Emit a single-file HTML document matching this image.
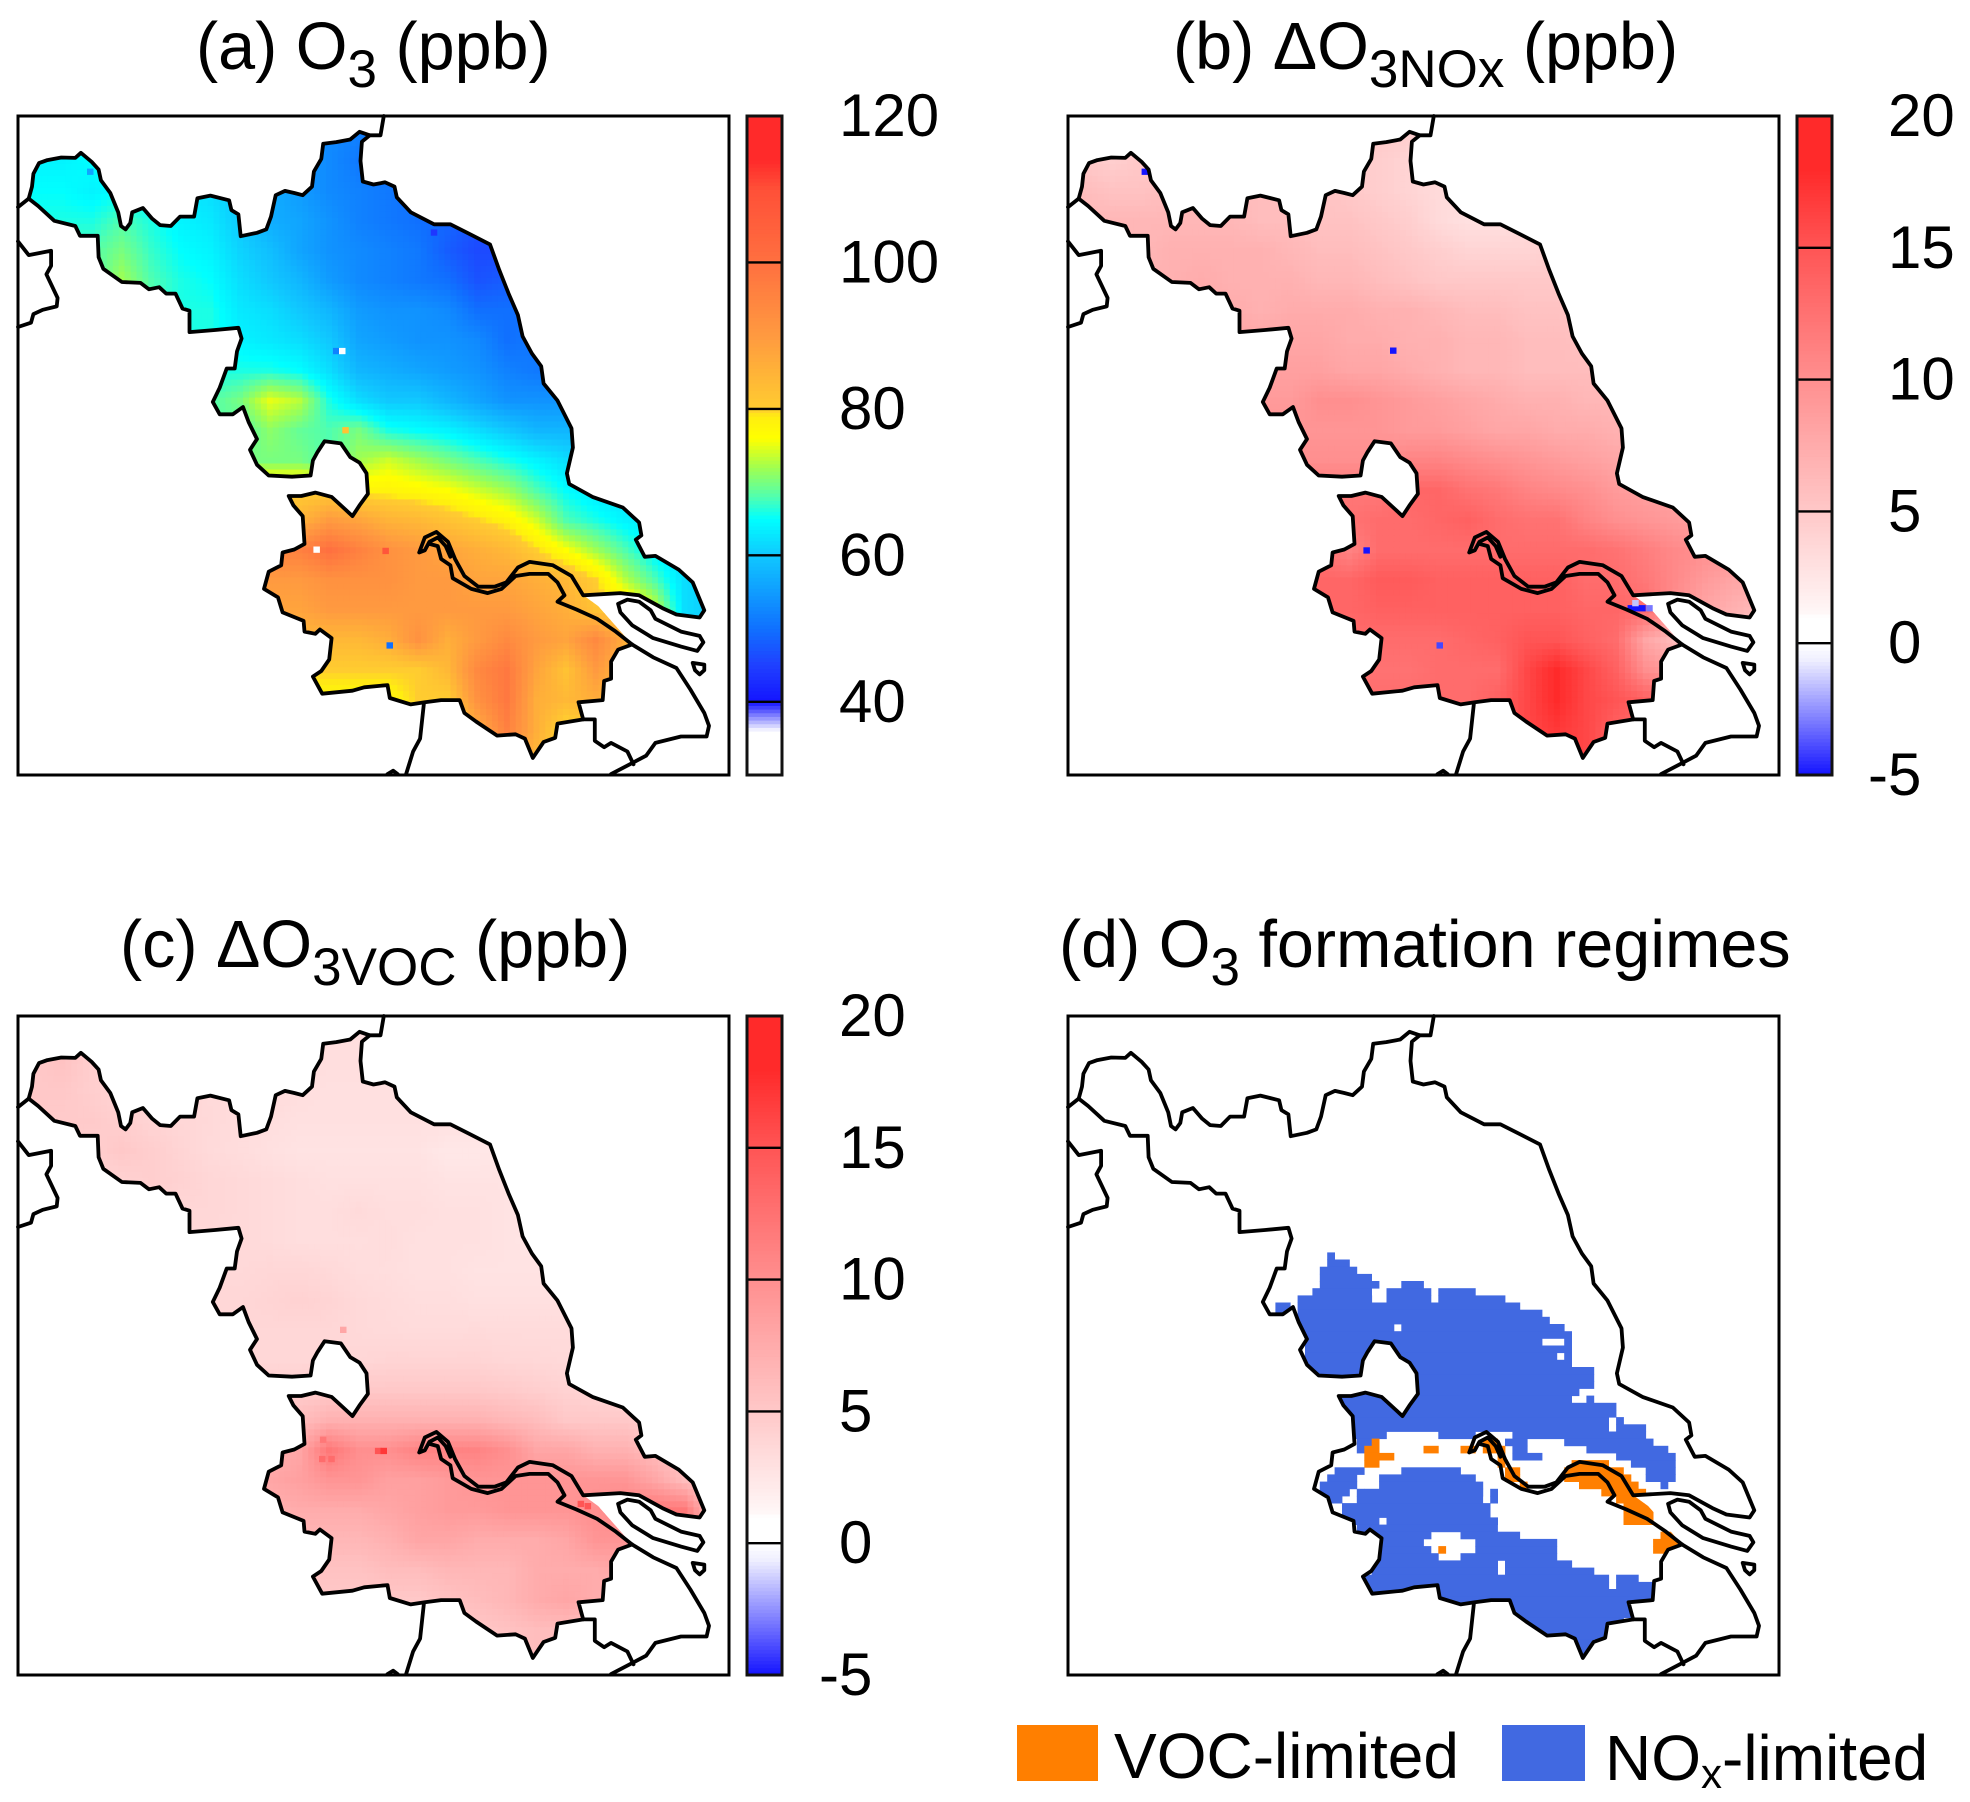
<!DOCTYPE html>
<html lang="en">
<head>
<meta charset="utf-8">
<title>O3 maps</title>
<style>
html,body{margin:0;padding:0;background:#fff;}
svg{display:block;}
text{font-family:"Liberation Sans",Arial,sans-serif;fill:#000;}
.title{font-size:66.5px;}
.lab{font-size:60px;}
.leg{font-size:64px;}
</style>
</head>
<body>
<svg id="fig" xmlns="http://www.w3.org/2000/svg" width="1970" height="1802" viewBox="0 0 1970 1802">
<defs></defs>
<g id="layers"></g>
<text class="title" x="196" y="69">(a) O<tspan font-size="53" dy="18">3</tspan><tspan dy="-18"> (ppb)</tspan></text>
<text class="title" x="1173" y="69">(b) ΔO<tspan font-size="53" dy="18">3NOx</tspan><tspan dy="-18"> (ppb)</tspan></text>
<text class="title" x="120" y="967">(c) ΔO<tspan font-size="53" dy="18">3VOC</tspan><tspan dy="-18"> (ppb)</tspan></text>
<text class="title" x="1059" y="967">(d) O<tspan font-size="53" dy="18">3</tspan><tspan dy="-18"> formation regimes</tspan></text>
<rect x="1017" y="1725" width="81" height="56" fill="#ff7f00"/>
<text class="leg" x="1114" y="1778">VOC-limited</text>
<rect x="1502" y="1725" width="83" height="56" fill="#4169e1"/>
<text class="leg" x="1605" y="1780">NO<tspan font-size="42" dy="8">x</tspan><tspan dy="-8">-limited</tspan></text>
</svg>
<script>
// ---------- tick data ----------
const o3Ticks = [40, 60, 80, 100, 120];
const o3TickLabels = ["40", "60", "80", "100", "120"];
const deltaTicks = [-5, 0, 5, 10, 15, 20];
const deltaTickLabels = ["-5", "0", "5", "10", "15", "20"];

// ---------- gridded values, 24 columns x 22 rows over each map ----------
const o3Values = [
[65,65,65,64,64,62,60,58,56,55,53,52,50,50,50,50,50,50,50,50,50,50,50,50],
[64,64,65,65,64,62,60,58,56,55,53,51,50,50,50,50,50,50,50,50,50,50,50,50],
[65,65,64,65,64,63,62,60,57,55,53,52,51,50,49,49,49,49,49,49,49,49,49,49],
[66,66,66,68,66,64,63,60,57,56,54,52,51,50,49,47,47,48,48,48,48,48,48,48],
[68,68,68,70,67,65,64,61,59,56,54,53,52,51,48,46,46,48,48,48,48,48,48,48],
[68,68,68,72,68,66,65,62,60,58,55,53,52,51,50,47,48,49,49,49,49,49,49,49],
[68,68,68,68,68,66,66,63,62,60,58,55,54,54,53,50,50,50,50,50,50,50,50,50],
[68,68,68,68,67,66,66,64,63,62,60,56,55,54,54,53,50,51,51,51,51,51,51,51],
[68,68,68,68,67,66,66,66,66,65,62,58,57,56,55,54,52,51,52,53,53,53,53,53],
[69,69,69,69,68,68,68,70,75,73,66,62,60,60,58,56,54,54,54,55,55,55,55,55],
[69,69,69,69,69,69,69,68,71,69,68,70,66,65,64,62,60,58,58,58,58,58,58,58],
[70,70,70,70,70,70,70,70,70,70,68,72,74,72,70,68,66,64,62,62,62,62,62,62],
[78,78,78,78,78,78,78,80,80,80,80,78,78,77,76,74,72,68,65,63,62,62,62,62],
[85,85,85,85,85,85,85,85,85,85,90,88,85,84,82,80,78,74,68,66,64,63,62,62],
[95,95,95,95,95,95,95,95,95,96,100,96,92,90,88,86,84,80,76,72,68,64,62,62],
[90,90,90,90,90,90,90,90,90,90,92,92,92,90,90,88,88,86,84,80,73,68,62,60],
[88,88,88,88,88,88,88,88,88,88,90,90,90,90,90,90,90,88,86,82,80,74,62,60],
[84,84,84,84,84,84,84,84,84,84,84,84,86,92,86,90,94,90,88,94,86,70,60,60],
[80,80,80,80,80,80,80,80,80,80,80,80,80,80,84,94,98,88,82,90,84,70,60,60],
[78,78,78,78,78,78,78,78,78,78,78,78,78,80,80,92,98,86,84,86,84,70,60,60],
[78,78,78,78,78,78,78,78,78,78,78,78,78,78,80,86,96,86,78,80,80,70,60,60],
[78,78,78,78,78,78,78,78,78,78,78,78,78,78,80,86,90,84,78,78,78,70,60,60]
];
const noxValues = [
[5,5,5,5,5,5,5,5,5,5,5,4.5,4.5,4.5,4.5,4.5,4.5,4.5,4.5,4.5,4.5,4.5,4.5,4.5],
[5,4.5,5,5,5.5,5.5,5.5,5.5,5.5,5,4.5,4,4,4,4,4,4,4,4,4,4,4,4,4],
[6,5.5,5.5,6,6.5,6,6,6,5.5,5,4.5,4,3.5,3.5,3.5,3.5,3.5,3.5,3.5,3.5,3.5,3.5,3.5,3.5],
[6.5,6.5,6.5,6.5,6.5,6.5,6,6,5.5,5.5,5,4.5,3.5,3,3,3.5,3.5,3.5,3.5,3.5,3.5,3.5,3.5,3.5],
[6.5,6.5,6.5,7,7,7,7,6.5,6,6,5.5,5,4.5,4,4,4,4.5,4.5,4.5,4.5,4.5,4.5,4.5,4.5],
[7,7,7,7,7.5,7,7,7,6.5,6.5,6,5.5,5,5,5,5,5,5,5,5,5,5,5,5],
[7.5,7.5,7.5,7.5,7.5,7.5,7,7.5,7.5,7.5,7,7,6.5,6,6,5.5,5.5,5,5,5,5,5,5,5],
[8,8,8,8,8,8,8,8,8,7.5,7.5,7,7,6.5,6.5,6,6,5.5,5.5,5.5,5.5,5.5,5.5,5.5],
[8.5,8.5,8.5,8.5,8.5,8.5,8.5,8.5,8.5,8,8,7.5,7,6.5,6.5,6,6,6,6,6,6,6,6,6],
[9,9,9,9,9,9,9,9,10,10,9.5,9,8.5,8,7.5,7,7,6.5,6.5,6.5,6.5,6.5,6.5,6.5],
[9.5,9.5,9.5,9.5,9.5,9.5,9.5,9.5,9.5,9.5,9.5,9,9,8.5,8,8,7.5,7.5,7,7,7,7,7,7],
[10,10,10,10,10,10,10,10,10,10,10,11,11,10.5,10,9.5,9,8.5,8,8,7.5,7.5,7.5,7.5],
[12,12,12,12,12,12,12,12,12,12,12,13.5,13.5,12.5,12,11,10.5,10,9,8.5,8.5,8.5,8.5,8.5],
[12,12,12,12,12,12,12,12,12,12.5,13,13,13.5,14,13,12.5,12.5,11,10,9.5,9,8.5,8,8],
[12.5,12.5,12.5,12.5,12.5,12.5,12.5,12.5,12.5,11,13,13,13,13,13,13,13,13,12.5,11.5,10.5,10,9.5,9],
[13.5,13.5,13.5,13.5,13.5,13.5,13.5,13.5,13.5,13.5,14.5,14.5,14,14,14,14,14,13,13,12,10.5,9,8,8],
[13.5,13.5,13.5,13.5,13.5,13.5,13.5,13.5,13.5,13.5,14,14,14,14,14,14,14,13.5,13.5,13,10,8,7,6],
[13,13,13,13,13,13,13,13,13,13,13,13,13,13.5,14,15,15,14,13,8,6,6,5,5],
[12.5,12.5,12.5,12.5,12.5,12.5,12.5,12.5,12.5,12.5,12.5,12.5,13,13,13,16,18,16,14,10,9,11,10,10],
[13,13,13,13,13,13,13,13,13,13,13,13,13,13,14,16,18,16,15,14,13,12,12,12],
[14,14,14,14,14,14,14,14,14,14,14,14,14,14,14,16,17,16,14,13,13,13,13,13],
[14,14,14,14,14,14,14,14,14,14,14,14,14,14,14,16,17,16,14,13,13,13,13,13]
];
const vocValues = [
[5,5,4,3.5,3.5,3.5,3.5,3.5,3.5,3.5,3.2,3.2,3.2,3.2,3.2,3.2,3.2,3.2,3.2,3.2,3.2,3.2,3.2,3.2],
[5,5.5,4.5,4,3.5,3.5,3.5,3.5,3.5,3.5,3.2,3.2,3,3,3,3,3,3,3,3,3,3,3,3],
[5,5,4.5,4,4,3.8,3.5,3.5,3.5,3.2,3,3,3,3,3,3,3,3,3,3,3,3,3,3],
[5,4.8,4.8,4.5,4,3.8,3.6,3.3,3.2,3,3,3,3,3,3,3,3,3,3,3,3,3,3,3],
[4.5,4.5,4.5,5,4.5,4,3.5,3.3,3,2.8,2.8,2.8,2.8,2.8,2.4,2.4,2.5,2.5,2.5,2.5,2.5,2.5,2.5,2.5],
[4,4,4,4.2,4.5,4.2,3.8,3.6,3.4,3.2,3,3,3,3,2.8,2.8,2.8,2.8,2.8,2.8,2.8,2.8,2.8,2.8],
[3.8,3.8,3.8,3.8,3.8,3.8,3.8,3.6,3.4,3.2,3.2,3.5,3.2,3.2,3,3,2.8,2.8,2.8,2.8,2.8,2.8,2.8,2.8],
[3.6,3.6,3.6,3.6,3.6,3.6,3.6,3.6,3.4,3.2,3.2,3.2,3.3,3,3,3,2.8,2.6,2.6,2.7,2.7,2.7,2.7,2.7],
[3.6,3.6,3.6,3.6,3.6,3.6,3.6,3.6,3.8,3.8,3.6,3.3,3.2,3,3,2.8,2.8,2.8,2.8,2.8,2.8,2.8,2.8,2.8],
[3.8,3.8,3.8,3.8,3.8,3.8,3.8,3.8,4,4.2,4,3.6,3.4,3.2,3.2,3,3,3,3,3,3,3,3,3],
[3.8,3.8,3.8,3.8,3.8,3.8,3.8,3.8,3.8,3.8,3.8,3.6,3.5,3.4,3.4,3.5,3.4,3.4,3.4,3.5,3.5,3.5,3.5,3.5],
[3.8,3.8,3.8,3.8,3.8,3.8,3.8,3.8,3.8,3.8,3.8,3.8,4,4,4,4,3.8,3.7,3.6,3.6,3.6,3.6,3.6,3.6],
[4.5,4.5,4.5,4.5,4.5,4.5,4.5,4.5,4.5,4.6,4.8,5,5,5,5,5,4.8,4.5,4.2,4,3.8,3.8,3.8,3.8],
[6,6,6,6,6,6,6,6,6,6,7,7,7,7,7,7,6.5,6,5,5,5,4.5,4.2,4],
[7,7,7,7,7,7,7,7,7,8,12,10,10,11,11,11,10,8,8,7,7,6,5,4.5],
[7.5,7.5,7.5,7.5,7.5,7.5,7.5,7.5,8,8.5,9.5,9.5,8.5,8.5,9,9.5,9.5,9.5,9.5,9.5,9.5,8,6,5],
[7,7,7,7,7,7,7,7,7,7.5,7.5,7.5,8,8.5,9,9,9.5,9.5,9.5,10,11,12,12,5],
[6.5,6.5,6.5,6.5,6.5,6.5,6.5,6.5,6.5,6.5,6.5,6.5,7,8,8,7.5,7.5,7.5,8,9.5,9.5,10,11,10],
[5.5,5.5,5.5,5.5,5.5,5.5,5.5,5.5,5.5,5.5,5.5,5.5,6,6,6.5,6.5,6.5,7.5,7.5,7.5,8,9,7.5,7],
[5,5,5,5,5,5,5,5,5,5,5,5,5,5,5.5,6,6.5,7.5,8,7.5,6.5,6,5.5,5.5],
[5,5,5,5,5,5,5,5,5,5,5,5,5,5,5,5,5.5,6,6,5.5,5,5,5,5],
[5,5,5,5,5,5,5,5,5,5,5,5,5,5,5,5,5.5,6,6,5.5,5,5,5,5]
];

// isolated grid points: [map u, map v, value]
const o3Spots = [[172,145,56],[910,287,44],[700,564,52],[713,564,30],[720,749,82],[658,1028,30],[806,1031,108],[815,1252,50]];
const noxSpots = [[182,145,-5],[715,563,-5],[658,1030,-5],[815,1252,-4],[1225,1165,-5],[1237,1165,-5],[1250,1165,-5],[1265,1165,-3],[1235,1153,-1.5]];
const vocSpots = [[790,1031,15],[802,1031,17],[715,748,8],[670,1050,13],[690,1050,13],[672,1005,12],[1225,1155,15],[1240,1160,15]];

// regime runs: [row, first column, last column, code] on a 96 x 92 grid
const noxCode = 1;
const vocCode = 2;
const regimeRuns = [
[33,35,35,1],[34,35,37,1],[35,34,38,1],[36,34,40,1],[37,34,41,1],[37,45,47,1],
[38,33,40,1],[38,43,48,1],[38,50,54,1],[39,31,40,1],[39,43,48,1],[39,50,58,1],
[40,28,29,1],[40,31,60,1],[41,28,29,1],[41,31,63,1],[42,31,64,1],[43,31,43,1],[43,45,66,1],
[44,31,67,1],[45,31,63,1],[45,67,67,1],[46,32,65,1],[46,66,67,1],[47,32,65,1],[47,67,67,1],
[48,32,67,1],[49,33,70,1],[50,33,70,1],[51,36,70,1],[52,36,68,1],[53,36,67,1],[53,70,70,1],
[54,36,73,1],[55,36,73,1],[56,37,72,1],[56,74,74,1],[57,37,72,1],[57,74,77,1],
[58,38,42,1],[58,50,54,1],[58,60,77,1],[59,39,40,1],[59,59,61,1],[59,67,78,1],
[60,39,39,1],[60,60,61,1],[60,70,80,1],[61,60,63,1],[61,74,81,1],[62,76,81,1],
[63,36,39,1],[63,45,52,1],[63,78,81,1],[64,35,38,1],[64,42,54,1],[64,78,81,1],
[65,34,38,1],[65,42,55,1],[65,80,80,1],[66,34,37,1],[66,39,39,1],[66,40,55,1],[66,57,57,1],
[67,35,36,1],[67,39,55,1],[67,57,57,1],[68,37,56,1],[69,37,56,1],[70,37,41,1],[70,43,57,1],
[71,39,57,1],[72,40,48,1],[72,53,60,1],[73,41,47,1],[73,55,65,1],[74,42,48,1],[74,55,65,1],
[75,42,49,1],[75,53,65,1],[76,41,57,1],[76,59,67,1],[77,41,57,1],[77,59,70,1],
[78,40,72,1],[78,74,76,1],[79,40,72,1],[79,74,78,1],[80,40,79,1],[81,46,79,1],
[82,55,76,1],[83,59,75,1],[84,60,74,1],[85,62,73,1],[86,62,73,1],[87,63,70,1],[88,66,70,1],[89,68,70,1],[90,68,70,1],
[59,41,41,2],[60,40,41,2],[61,40,41,2],[62,40,41,2],[61,42,43,2],[60,48,49,2],[60,53,54,2],
[59,56,57,2],[60,56,57,2],[60,58,58,2],[61,58,58,2],[62,58,58,2],[63,59,60,2],[64,59,60,2],[65,61,61,2],
[74,50,50,2],[62,68,72,2],[63,67,74,2],[64,67,75,2],[65,69,76,2],[66,72,77,2],[67,74,77,2],
[68,75,78,2],[69,75,78,2],[70,75,78,2],[72,80,81,2],[73,79,83,2],[74,79,83,2]
];

// ---------- map geometry in traced map units (frame 17..1543 by 15..1555) ----------
const northLine = [[40,208],[47,180],[50,150],[62,125],[80,118],[110,112],[140,113],[152,101],[175,122],[190,140],[195,165],[215,195],[232,240],[238,272],[248,280],[258,265],[262,240],[285,230],[305,255],[322,270],[345,272],[365,250],[395,250],[402,207],[430,201],[470,212],[475,235],[490,245],[495,296],[530,288],[550,280],[560,250],[570,200],[590,190],[610,195],[628,200],[648,180],[652,145],[668,115],[672,80],[700,76],[730,70],[750,52],[772,60],[755,75],[752,120],[757,168],[780,175],[805,170],[825,180],[830,205],[860,240],[910,268],[945,268],[985,290],[1030,315],[1050,375],[1070,430],[1090,480],[1100,530],[1120,570],[1140,600],[1145,640],[1175,680],[1205,745],[1208,790],[1195,850],[1200,875],[1250,905],[1315,930],[1350,965],[1355,995],[1343,1005],[1362,1045],[1385,1043],[1435,1075],[1465,1105],[1490,1170],[1480,1187],[1430,1180],[1400,1165],[1350,1135],[1310,1130],[1230,1135]];
const northBank = [[1205,1090],[1165,1065],[1115,1057],[1090,1070],[1065,1105],[1040,1115],[1005,1115],[975,1090],[955,1050],[940,1010],[915,987],[890,1000],[878,1035],[890,1030],[900,1010],[918,1000],[935,1020],[945,1045]];
const southLine = [[1335,1250],[1305,1262],[1290,1290],[1290,1330],[1275,1335],[1272,1380],[1220,1385],[1230,1425],[1175,1435],[1170,1468],[1145,1478],[1122,1515],[1105,1470],[1085,1460],[1045,1463],[1000,1430],[975,1410],[965,1380],[925,1380],[890,1385],[860,1390],[815,1375],[810,1345],[760,1350],[735,1358],[670,1365],[650,1325],[668,1312],[685,1285],[690,1235],[665,1215],[655,1225],[632,1220],[630,1195],[585,1175],[575,1140],[545,1120],[555,1080],[582,1065],[585,1035],[610,1028],[632,1015],[628,950],[608,925],[598,903],[625,903],[655,895],[690,905],[715,930],[735,950],[750,925],[768,898],[765,850],[750,825],[730,812],[710,780],[675,775],[660,800],[650,820],[645,855],[605,858],[555,855],[530,830],[515,795],[530,770],[512,730],[500,695],[478,712],[450,712],[435,683],[450,650],[465,605],[482,605],[487,565],[497,535],[490,510],[440,515],[385,520],[385,470],[370,465],[355,430],[335,430],[320,415],[298,420],[280,405],[240,403],[200,372],[190,345],[188,295],[150,295],[140,272],[95,260],[60,225],[40,208]];
const southBank = [[1300,1220],[1260,1190],[1215,1168],[1175,1150],[1190,1135],[1175,1105],[1155,1085],[1115,1085],[1085,1090],[1055,1120],[1025,1130],[990,1120],[950,1095],[945,1065],[925,1050],[918,1020],[900,1015]];
const otherLines = [
[[1305,1155],[1325,1145],[1350,1150],[1375,1170],[1385,1190],[1440,1220],[1480,1230],[1488,1245],[1475,1265],[1440,1255],[1380,1235],[1335,1205],[1310,1175],[1305,1155]],
[[1465,1293],[1490,1297],[1490,1310],[1480,1320],[1470,1310],[1465,1293]],
[[1335,1250],[1380,1280],[1430,1305],[1460,1355],[1490,1410],[1500,1440],[1495,1465],[1440,1465],[1385,1480],[1365,1510],[1330,1530],[1290,1553]],
[[1230,1425],[1255,1425],[1255,1475],[1275,1490],[1290,1480],[1325,1500],[1338,1530]],
[[888,1390],[880,1470],[865,1500],[850,1553]],
[[810,1553],[822,1545],[832,1553]],
[[772,60],[795,60],[802,15]],
[[17,228],[40,208]],
[[17,308],[40,340],[88,330],[88,365],[78,385],[102,440],[100,460],[70,468],[50,478],[45,498],[17,508]]
];

const o3Stops = [[30,"#ffffff"],[36,"#ffffff"],[40,"#1414ff"],[45,"#2040ff"],[50,"#1070ff"],[60,"#10c8ff"],[65,"#00ffff"],[68,"#50ffb0"],[72,"#a0ff50"],[76,"#ffff00"],[79,"#ffee10"],[80,"#ffcc30"],[90,"#ff9a40"],[100,"#ff7040"],[110,"#ff5038"],[114,"#ff2a2a"],[120,"#ff2a2a"]];
const deltaStops = [[-5,"#1414ff"],[-0.6,"#f0f0ff"],[0,"#ffffff"],[1,"#ffffff"],[1.2,"#fff6f6"],[5,"#ffc8c8"],[10,"#ff8f8f"],[15,"#ff5555"],[18,"#ff2a2a"],[20,"#ff2a2a"]];

const NS = "http://www.w3.org/2000/svg";
const root = document.getElementById("layers");
const ring = northLine.concat([[1262,1160]]).concat(southLine);

function hex(c){return [parseInt(c.slice(1,3),16),parseInt(c.slice(3,5),16),parseInt(c.slice(5,7),16)];}
function colorOf(stops,v){
  if(v<=stops[0][0]) return stops[0][1];
  for(let i=1;i<stops.length;i++){
    if(v<=stops[i][0]){
      const t=(v-stops[i-1][0])/(stops[i][0]-stops[i-1][0]);
      const a=hex(stops[i-1][1]),b=hex(stops[i][1]);
      return "rgb("+a.map((x,k)=>Math.round(x+(b[k]-x)*t)).join(",")+")";
    }
  }
  return stops[stops.length-1][1];
}
function make(tag,attrs,parent){
  const el=document.createElementNS(NS,tag);
  for(const k in attrs) el.setAttribute(k,attrs[k]);
  parent.appendChild(el);
  return el;
}
function inRing(u,v){
  let hit=false;
  for(let i=0,j=ring.length-1;i<ring.length;j=i++){
    const a=ring[i],b=ring[j];
    if((a[1]>v)!==(b[1]>v)&&u<(b[0]-a[0])*(v-a[1])/(b[1]-a[1])+a[0]) hit=!hit;
  }
  return hit;
}
const panelW=711;
function scales(x0,y0,h){
  return {
    x:u=>x0+(u-17)/1526*panelW,
    y:v=>y0+(v-15)/1540*h
  };
}
function pathOf(pts,s,close){
  return pts.map((p,i)=>(i?"L":"M")+s.x(p[0]).toFixed(1)+" "+s.y(p[1]).toFixed(1)).join("")+(close?"Z":"");
}
const GRID_COLS=24,GRID_ROWS=22,SUB=5;

function sampleField(field,fx,fy){
  const cx=Math.max(0,Math.min(GRID_COLS-1.001,fx-0.5));
  const cy=Math.max(0,Math.min(GRID_ROWS-1.001,fy-0.5));
  const i=Math.floor(cx),j=Math.floor(cy),tx=cx-i,ty=cy-j;
  const top=field[j][i]*(1-tx)+field[j][i+1]*tx;
  const bot=field[j+1][i]*(1-tx)+field[j+1][i+1]*tx;
  return top*(1-ty)+bot*ty;
}

function drawMap(id,x0,y0,h,field,spots,stops,regimes){
  const s=scales(x0,y0,h);
  const g=make("g",{},root);
  
  
  const defs=document.querySelector("defs");
  const clip=make("clipPath",{id:"clip"+id},defs);
  make("path",{d:pathOf(ring,s,true)},clip);
  const clipped=make("g",{"clip-path":"url(#clip"+id+")"},g);
  if(field){
    const du=1526/(GRID_COLS*SUB),dv=1540/(GRID_ROWS*SUB);
    for(let j=0;j<GRID_ROWS*SUB;j++){
      for(let i=0;i<GRID_COLS*SUB;i++){
        const u0=17+i*du,v0=15+j*dv;
        if(!(inRing(u0+du/2,v0+dv/2)||inRing(u0,v0)||inRing(u0+du,v0)||inRing(u0,v0+dv)||inRing(u0+du,v0+dv))) continue;
        const val=sampleField(field,(i+0.5)/SUB,(j+0.5)/SUB);
        const cell=make("rect",{
          x:s.x(u0).toFixed(1),
          y:s.y(v0).toFixed(1),
          width:(du*panelW/1526+0.6).toFixed(1),
          height:(dv*h/1540+0.6).toFixed(1),
          fill:colorOf(stops,val)
        },clipped);
        
        
      }
    }
    spots.forEach(p=>{
      const dot=make("rect",{
        x:s.x(p[0]-7).toFixed(1),y:s.y(p[1]-7).toFixed(1),
        width:"6.5",height:"6.3",fill:colorOf(stops,p[2])
      },g);
      
      
    });
  }
  if(regimes){
    const cw=panelW/96,ch=h/92;
    regimes.forEach(r=>{
      const cell=make("rect",{
        x:(x0+r[1]*cw).toFixed(1),y:(y0+r[0]*ch).toFixed(1),
        width:((r[2]-r[1]+1)*cw+0.4).toFixed(1),
        height:(ch+0.4).toFixed(1),
        fill:r[3]===vocCode?"#ff7f00":"#4169e1"
      },clipped);
      
      
    });
  }
  const lineStyle={fill:"none",stroke:"#000","stroke-width":"3.8","stroke-linejoin":"round","stroke-linecap":"round"};
  const lines=[northLine.concat(northBank),southLine,[[1335,1250]].concat(southBank)].concat(otherLines);
  lines.forEach(pts=>{
    const l=make("path",Object.assign({d:pathOf(pts,s,false)},lineStyle),g);
    
    
  });
  const frame=make("rect",{x:x0,y:y0,width:panelW,height:h,fill:"none",stroke:"#000","stroke-width":"3"},g);
  
  
}

function drawBar(id,x0,y0,h,lo,hi,stops,ticks,labels,labelX){
  const g=make("g",{},root);
  
  
  const w=35;
  const yOf=v=>y0+(hi-v)/(hi-lo)*h;
  const step=(hi-lo)/180;
  for(let k=0;k<180;k++){
    const a=lo+k*step;
    const sw=make("rect",{x:x0,y:yOf(a+step).toFixed(2),width:w,height:(h/180+0.5).toFixed(2),fill:colorOf(stops,a+step/2)},g);
    
    
  }
  ticks.forEach((t,i)=>{
    const y=yOf(t);
    if(t>lo&&t<hi){
      const m=make("line",{x1:x0,x2:x0+w,y1:y,y2:y,stroke:"#000","stroke-width":"2.4"},g);
      
      
    }
    const txt=make("text",{class:"lab",x:labels[i].charAt(0)==="-"?labelX-20:labelX,y:(y+20).toFixed(1)},g);
    txt.textContent=labels[i];
    
    
  });
  const f=make("rect",{x:x0,y:y0,width:w,height:h,fill:"none",stroke:"#111","stroke-width":"3"},g);
  
  
}

const topY=116,topH=659,lowY=1016,lowH=659,leftX=18,rightX=1068;
drawMap("a",leftX,topY,topH,o3Values,o3Spots,o3Stops,null);
drawMap("b",rightX,topY,topH,noxValues,noxSpots,deltaStops,null);
drawMap("c",leftX,lowY,lowH,vocValues,vocSpots,deltaStops,null);
drawMap("d",rightX,lowY,lowH,null,[],null,regimeRuns);
drawBar("a",747,topY,topH,30,120,o3Stops,o3Ticks,o3TickLabels,839);
drawBar("b",1797,topY,topH,-5,20,deltaStops,deltaTicks,deltaTickLabels,1888);
drawBar("c",747,lowY,lowH,-5,20,deltaStops,deltaTicks,deltaTickLabels,839);
</script>
</body>
</html>
